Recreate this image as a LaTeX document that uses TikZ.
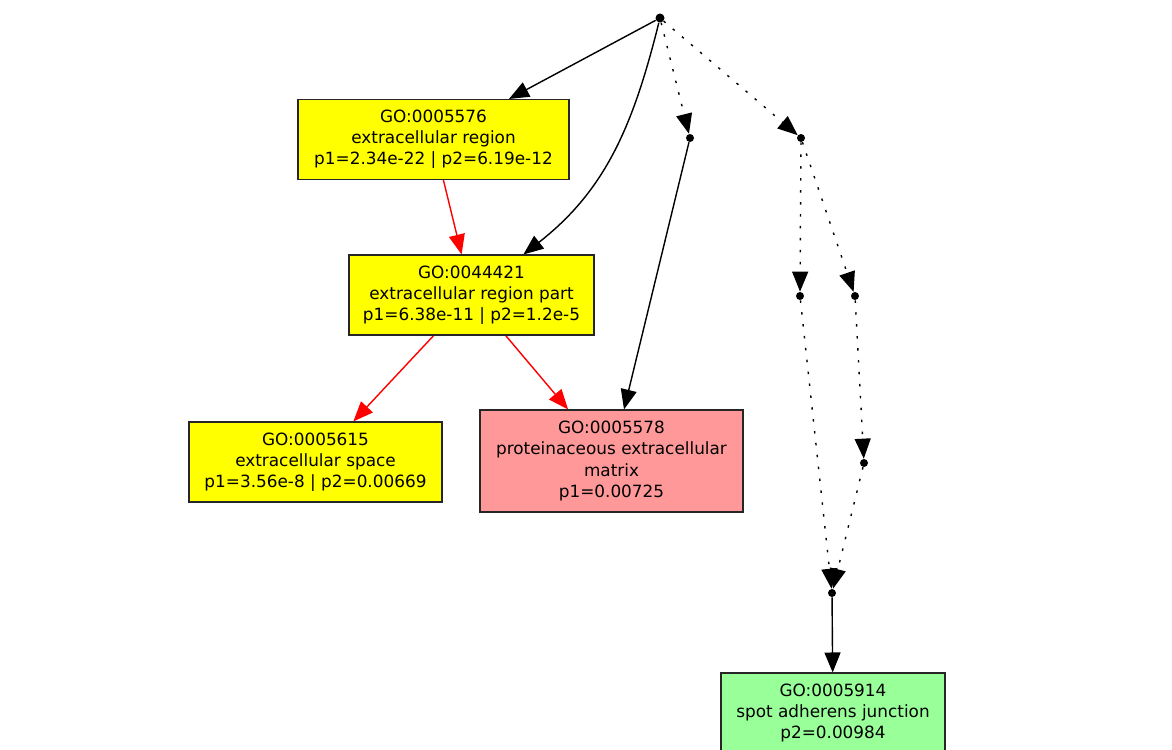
\documentclass[tikz,border=0pt]{standalone}
\usepackage{fontspec}
\setmainfont{DejaVu Sans}
\usetikzlibrary{arrows.meta}
\pgfdeclarelayer{bg}
\pgfsetlayers{bg,main}
\definecolor{goyellow}{RGB}{255,255,0}
\definecolor{gopink}{RGB}{255,153,153}
\definecolor{gogreen}{RGB}{153,255,153}

\begin{document}
\begin{tikzpicture}[
        font=\fontsize{9.6}{12}\selectfont,
        goterm/.style={draw=black!85, line width=0.6pt, align=center, inner sep=0pt, minimum height=1.6cm},
        gopt/.style={circle, fill=black, inner sep=0pt, minimum size=0.16cm},
        isa/.style={draw=black, line width=0.8pt, -{Triangle[length=0.4cm,width=0.32cm]}},
        sigedge/.style={isa, draw=red, fill=red},
        hidden/.style={isa, dash pattern=on 1.4pt off 5.4pt}
]
        \useasboundingbox (0,0) rectangle (23.44cm,-14.98cm);
        \node (top) [gopt, minimum size=0.18cm] at (13.200000cm, -0.360000cm) {};
        \node (p1) [gopt] at (13.800000cm, -2.760000cm) {};
        \node (p2) [gopt] at (16.020000cm, -2.760000cm) {};
        \node (p3) [gopt] at (16.000000cm, -5.920000cm) {};
        \node (p4) [gopt] at (17.100000cm, -5.920000cm) {};
        \node (p5) [gopt] at (17.280000cm, -9.260000cm) {};
        \node (p6) [gopt] at (16.640000cm, -11.860000cm) {};
        \node (go5576) [goterm, fill=goyellow, minimum width=5.42cm] at (8.670000cm, -2.790000cm)
                {GO:0005576\\extracellular region\\p1=2.34e-22 | p2=6.19e-12};
        \node (go44421) [goterm, fill=goyellow, minimum width=4.90cm] at (9.430000cm, -5.900000cm)
                {GO:0044421\\extracellular region part\\p1=6.38e-11 | p2=1.2e-5};
        \node (go5615) [goterm, fill=goyellow, minimum width=5.06cm] at (6.310000cm, -9.240000cm)
                {GO:0005615\\extracellular space\\p1=3.56e-8 | p2=0.00669};
        \node (go5578) [goterm, fill=gopink, minimum width=5.26cm, minimum height=2.04cm] at (12.230000cm, -9.220000cm)
                {GO:0005578\\proteinaceous extracellular\\matrix\\p1=0.00725};
        \node (go5914) [goterm, fill=gogreen, minimum width=4.48cm] at (16.660000cm, -14.260000cm)
                {GO:0005914\\spot adherens junction\\p2=0.00984};
        \begin{pgfonlayer}{bg}
                \draw (top) edge [isa] (go5576);
                \draw (top) edge [isa, out=-104, in=38] (go44421);
                \draw (top) edge [hidden] (p1);
                \draw (top) edge [hidden] (p2);
                \draw (p1) edge [isa] (go5578);
                \draw (go5576) edge [sigedge] (go44421);
                \draw (go44421) edge [sigedge] (go5615);
                \draw (go44421) edge [sigedge] (go5578);
                \draw (p2) edge [hidden] (p3);
                \draw (p2) edge [hidden] (p4);
                \draw (p3) edge [hidden] (p6);
                \draw (p4) edge [hidden] (p5);
                \draw (p5) edge [hidden] (p6);
                \draw (p6) edge [isa] (go5914);
        \end{pgfonlayer}
\end{tikzpicture}
\end{document}
